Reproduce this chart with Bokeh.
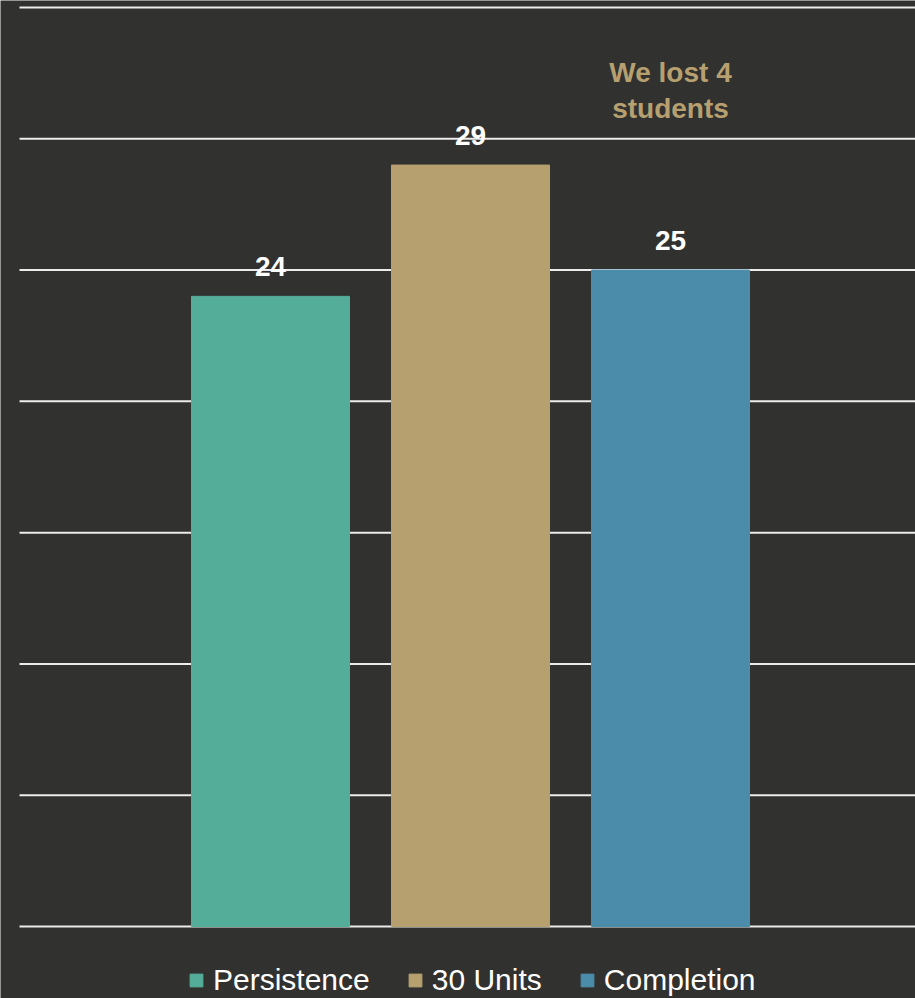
from bokeh.plotting import figure
from bokeh.models import ColumnDataSource, Range1d, Grid, Legend, LegendItem, Label
from bokeh.core.properties import value
from bokeh.embed import file_html
from bokeh.resources import INLINE

categories = ["Persistence", "30 Units", "Completion"]
counts = [24, 29, 25]
colors = ["#53ad98", "#b7a070", "#4a8ca9"]
grid_ticks = [0, 5, 10, 15, 20, 25, 30, 35]
note_lines = ["We lost 4", "students"]

BG = "#31312f"
FONT = "Liberation Sans"

xs = list(range(len(categories)))
src = ColumnDataSource(dict(x=xs, top=counts, color=colors, name=categories,
                            label=[str(v) for v in counts]))

p = figure(width=915, height=998, output_backend="svg", toolbar_location=None,
           x_axis_location=None, y_axis_location=None,
           x_range=Range1d(-1.35, 3.225), y_range=Range1d(-2.742, 35.267),
           min_border_left=0, min_border_right=0, min_border_top=0, min_border_bottom=0,
           background_fill_color=BG, border_fill_color=BG, outline_line_color=None)

p.center = [c for c in p.center if not isinstance(c, Grid)]

# horizontal gridlines, starting a little right of the left edge
gx0 = -1.255
gx1 = 3.3
p.segment(x0=[gx0] * len(grid_ticks), x1=[gx1] * len(grid_ticks), y0=grid_ticks, y1=grid_ticks,
          line_color="#ececec", line_width=2, level="underlay")

r = p.vbar(x="x", top="top", width=0.79, bottom=0, color="color", source=src)

p.text(x="x", y="top", text="label", source=src, text_align="center",
       text_baseline="bottom", y_offset=-20, text_color="white",
       text_font=value(FONT), text_font_size="28px", text_font_style="bold")

note_y = [32.52, 31.15]
for line, yy in zip(note_lines, note_y):
    p.add_layout(Label(x=2, y=yy, text=line, text_align="center", text_baseline="alphabetic",
                       text_color="#b7a070", text_font=FONT, text_font_size="28px",
                       text_font_style="bold"))

items = [LegendItem(label=c, renderers=[r], index=i) for i, c in enumerate(categories)]
legend = Legend(items=items, orientation="horizontal", location=(188, 1),
                glyph_width=16, glyph_height=16, label_standoff=9, spacing=37,
                padding=0, margin=0, border_line_color=None, background_fill_alpha=0,
                label_text_color="white", label_text_font=FONT, label_text_font_size="30px",
                label_height=30)
p.add_layout(legend)

open("out.html", "w").write(file_html(p, INLINE))
